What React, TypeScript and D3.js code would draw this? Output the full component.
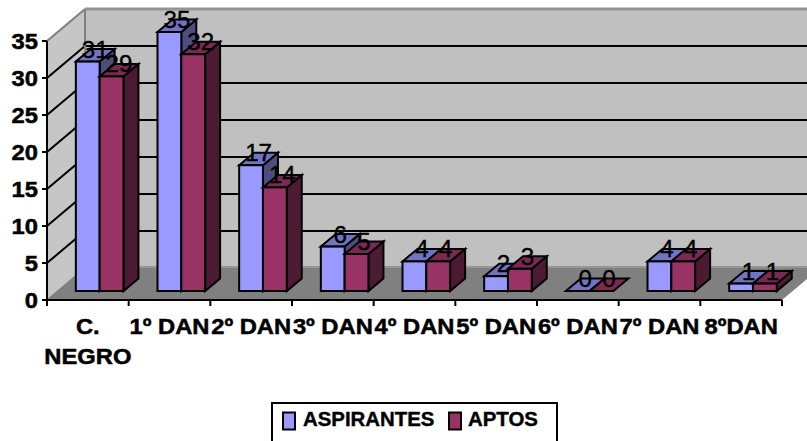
import React from "react";
import * as d3 from "d3";

const categories = ["C.|NEGRO", "1º DAN", "2º DAN", "3º DAN", "4º DAN", "5º DAN", "6º DAN", "7º DAN", "8ºDAN"];
const aspirantes = [31, 35, 17, 6, 4, 2, 0, 4, 1];
const aptos = [29, 32, 14, 5, 4, 3, 0, 4, 1];
const yTicks = [0, 5, 10, 15, 20, 25, 30, 35];
const seriesNames = ["ASPIRANTES", "APTOS"];
const fronts = ["#9999ff", "#993366"];
const tops = ["#7373c4", "#7a2952"];
const sides = ["#4d4d80", "#4d1a33"];

const W = 807, H = 441;
const floorY = 300;
const depth = { x: 38, y: -32 };
const barOff = { x: 11.8, y: -9 };
const barDepth = { x: 15, y: -12.5 };
const barW = 23.8;

const x = d3.scaleBand<number>().domain(d3.range(categories.length)).range([47, 782]);
const y = d3.scaleLinear().domain([0, 35]).range([floorY, 41]);

const pts = (p: number[][]) => p.map(q => q.join(",")).join(" ");

function T({ x, y, size = 22, weight = 700, sx = 1.08, anchor = "middle", thick = 0.5, children }: any) {
  return (
    <text transform={`translate(${x},${y}) scale(${sx},1)`} fontFamily="'Liberation Sans', Arial, sans-serif"
      fontSize={size} fontWeight={weight} textAnchor={anchor} fill="#000" stroke="#000" strokeWidth={thick}>{children}</text>
  );
}

export default function App() {
  const xEnd = x.range()[1];
  const bars = categories.flatMap((_, i) =>
    [aspirantes[i], aptos[i]].map((v, s) => {
      const cx = x(i)! + x.bandwidth() / 2 + barOff.x;
      const x0 = cx - barW + s * barW;
      const x1 = x0 + barW;
      const yb = y(0) + barOff.y;
      const yt = y(v) + barOff.y;
      return { i, s, v, x0, x1, yb, yt };
    })
  );
  return (
    <svg width={W} height={H} style={{ position: "absolute", left: 0, top: 0, background: "#fff" }}>
      {/* walls */}
      <polygon points={pts([[x(0)!, y(35)], [x(0)! + depth.x, y(35) + depth.y], [x(0)! + depth.x, y(0) + depth.y], [x(0)!, y(0)]])} fill="#c6c6c6" />
      <rect x={x(0)! + depth.x} y={y(35) + depth.y} width={W} height={y(0) - y(35)} fill="#c0c0c0" />
      <polygon points={pts([[x(0)!, y(0)], [x(0)! + depth.x, y(0) + depth.y], [xEnd + depth.x, y(0) + depth.y], [xEnd, y(0)]])} fill="#808080" />
      <line x1={x(0)! + depth.x} x2={W} y1={y(0) + depth.y - 1} y2={y(0) + depth.y - 1} stroke="#969696" strokeWidth={2} />
      {/* grid */}
      {yTicks.filter(t => t > 0 && t < 35).map(t => (
        <g key={t}>
          <line x1={x(0)!} y1={y(t)} x2={x(0)! + depth.x} y2={y(t) + depth.y} stroke="#000" strokeWidth={2} />
          <line x1={x(0)! + depth.x} x2={W} y1={y(t) + depth.y} y2={y(t) + depth.y} stroke="#000" strokeWidth={2} />
        </g>
      ))}
      <line x1={x(0)! + depth.x} x2={W} y1={y(35) + depth.y} y2={y(35) + depth.y} stroke="#949494" strokeWidth={3} />
      <line x1={x(0)! + depth.x} x2={x(0)! + depth.x} y1={y(35) + depth.y} y2={y(0) + depth.y} stroke="#808080" strokeWidth={2} />
      <line x1={x(0)!} y1={y(35)} x2={x(0)! + depth.x} y2={y(35) + depth.y} stroke="#808080" strokeWidth={2} />
      <line x1={x(0)!} y1={y(0)} x2={x(0)! + depth.x} y2={y(0) + depth.y} stroke="#808080" strokeWidth={1.5} />
      {/* bars */}
      {bars.map(b => (
        <g key={`${b.i}-${b.s}`} stroke="#000" strokeWidth={2} strokeLinejoin="miter">
          {b.v > 0 && <polygon points={pts([[b.x1, b.yt], [b.x1 + barDepth.x, b.yt + barDepth.y], [b.x1 + barDepth.x, b.yb + barDepth.y], [b.x1, b.yb]])} fill={sides[b.s]} />}
          <polygon points={pts([[b.x0, b.yt], [b.x0 + barDepth.x, b.yt + barDepth.y], [b.x1 + barDepth.x, b.yt + barDepth.y], [b.x1, b.yt]])} fill={tops[b.s]} />
          {b.v > 0 && <rect x={b.x0} y={b.yt} width={barW} height={b.yb - b.yt} fill={fronts[b.s]} />}
        </g>
      ))}
      {/* axes */}
      <line x1={x(0)!} x2={x(0)!} y1={y(35)} y2={y(0)} stroke="#000" strokeWidth={2} />
      <line x1={x(0)!} x2={xEnd} y1={y(0)} y2={y(0)} stroke="#000" strokeWidth={2} />
      {yTicks.map(t => (
        <g key={t}>
          <line x1={x(0)! - 5} x2={x(0)!} y1={y(t)} y2={y(t)} stroke="#000" strokeWidth={2} />
          <T x={38} y={y(t) + 8} anchor="end">{t}</T>
        </g>
      ))}
      {categories.map((c, i) => (
        <line key={c} x1={x(i)!} x2={x(i)!} y1={y(0)} y2={y(0) + 6} stroke="#000" strokeWidth={2} />
      ))}
      <line x1={xEnd} x2={xEnd} y1={y(0)} y2={y(0) + 6} stroke="#000" strokeWidth={2} />
      {categories.map((c, i) => c.split("|").map((part, k) => (
        <T key={part} x={x(i)! + x.bandwidth() / 2} y={334 + k * 30}>{part}</T>
      )))}
      {/* data labels */}
      {bars.map(b => (
        <T key={`l${b.i}-${b.s}`} x={(b.x0 + b.x1) / 2 + barDepth.x / 2} y={b.yt - 4} size={23} weight={400} sx={1.05} thick={0.4}>{b.v}</T>
      ))}
      {/* legend */}
      <rect x={272} y={403} width={285} height={60} fill="#fff" stroke="#000" strokeWidth={2} />
      {seriesNames.map((n, s) => {
        const sx = [283, 449][s], tx = [303, 468][s];
        return (
          <g key={n}>
            <rect x={sx} y={412.5} width={12} height={17} fill={fronts[s]} stroke="#000" strokeWidth={2} />
            <T x={tx} y={426} anchor="start" size={20} sx={1.02} thick={0.4}>{n}</T>
          </g>
        );
      })}
    </svg>
  );
}
